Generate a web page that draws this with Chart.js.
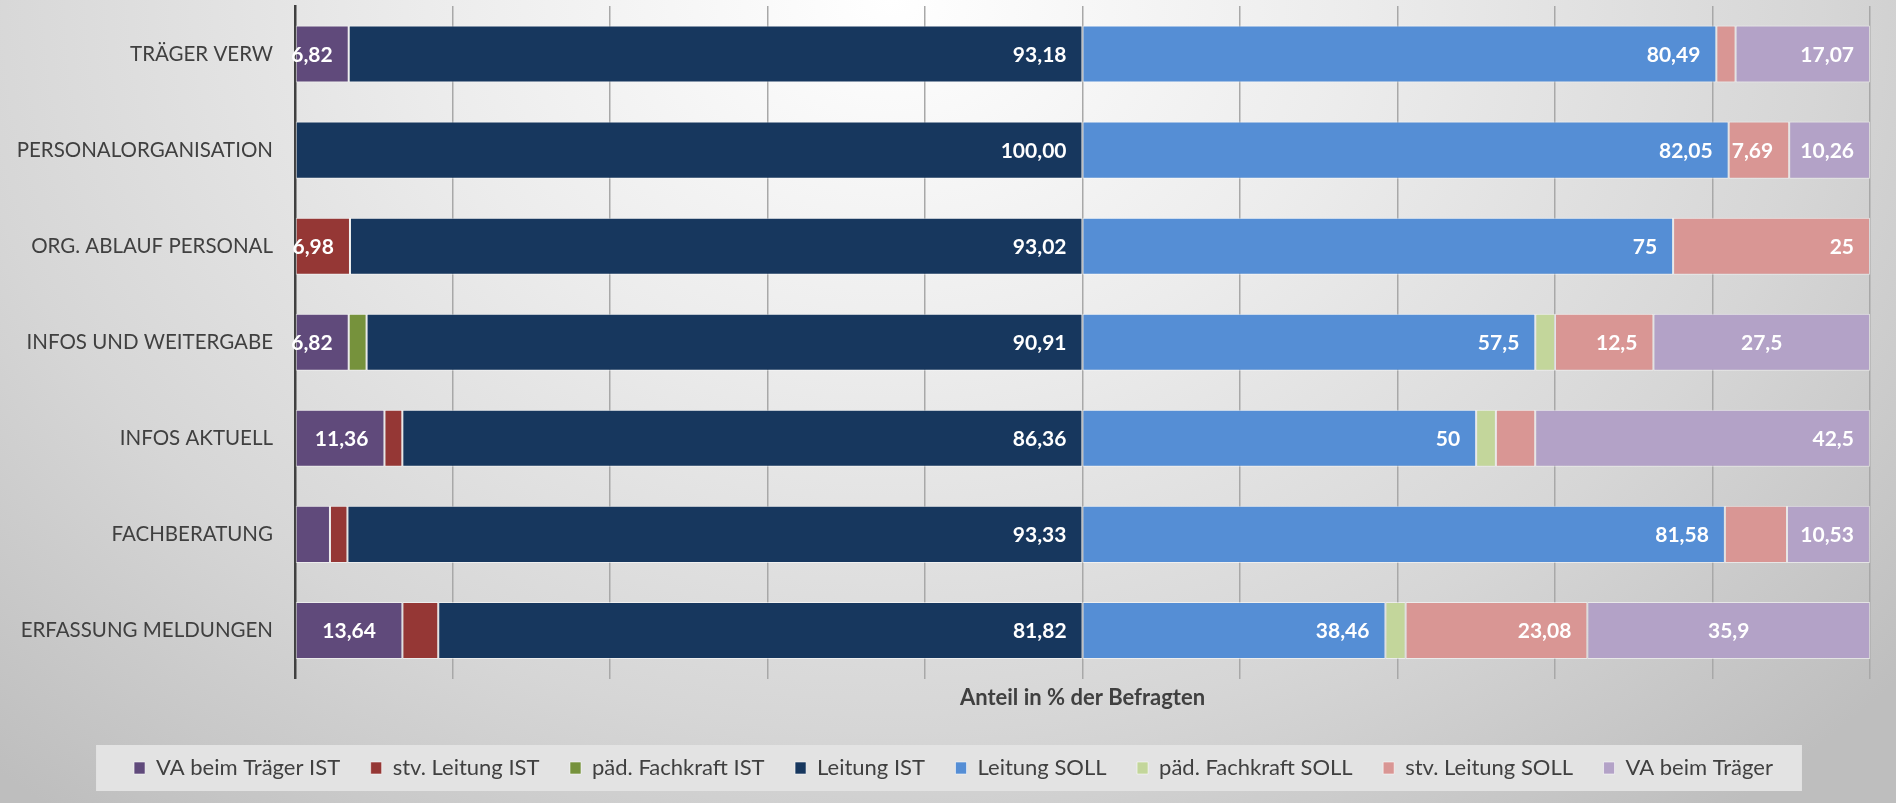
<!DOCTYPE html>
<html>
<head>
<meta charset="utf-8">
<script src="https://cdn.jsdelivr.net/npm/chart.js@4.4.1/dist/chart.umd.min.js"></script>
<style>
  html, body {
    margin: 0;
    padding: 0;
    width: 1896px;
    height: 803px;
    overflow: hidden;
    background: radial-gradient(ellipse 70% 130% at 47% 0%, #ffffff 0%, #ececec 35%, #d6d6d6 70%, #bebebe 100%);
  }
  canvas { display: block; }
</style>
</head>
<body>
<canvas id="chart_anteil" width="1896" height="803"></canvas>
<script>
const categories = ['TRÄGER VERW', 'PERSONALORGANISATION', 'ORG. ABLAUF PERSONAL', 'INFOS UND WEITERGABE', 'INFOS AKTUELL', 'FACHBERATUNG', 'ERFASSUNG MELDUNGEN'];

// IST (0-100) then SOLL stacked behind it (100-200)
const vaTraegerIst = [6.82, null, null, 6.82, 11.36, 4.44, 13.64];
const stvLeitungIst = [null, null, 6.98, null, 2.27, 2.22, 4.55];
const paedFachkraftIst = [null, null, null, 2.27, null, null, null];
const leitungIst = [93.18, 100, 93.02, 90.91, 86.36, 93.33, 81.82];
const leitungSoll = [80.49, 82.05, 75, 57.5, 50, 81.58, 38.46];
const paedFachkraftSoll = [null, null, null, 2.5, 2.5, null, 2.56];
const stvLeitungSoll = [2.44, 7.69, 25, 12.5, 5, 7.89, 23.08];
const vaTraegerSoll = [17.07, 10.26, null, 27.5, 42.5, 10.53, 35.9];

const xTitle = 'Anteil in % der Befragten';

// labels Excel left out / put in the middle
const unlabelled = [['stv. Leitung SOLL', 5]];
const centered = [['VA beim Träger IST', 6], ['VA beim Träger', 3], ['VA beim Träger', 6]];

Chart.defaults.font.family = 'Lato';
Chart.defaults.color = '#404040';

function fmt(label, v) {
    if (label.endsWith('IST')) return v.toFixed(2).replace('.', ',');
    return String(v).replace('.', ',');
}

const labelPlugin = {
    id: 'werteLabels',
    afterLayout(chart) {
        // legend sits a bit right of the canvas centre
        chart.legend.left += 16;
        chart.legend.right += 16;
    },
    beforeDraw(chart) {
        // grey box behind the legend
        const lg = chart.legend;
        if (!lg || !lg.legendHitBoxes.length) return;
        const hb = lg.legendHitBoxes;
        const first = hb[0], last = hb[hb.length - 1];
        const cy = first.top + first.height / 2;
        const ctx = chart.ctx;
        ctx.save();
        ctx.fillStyle = '#e3e3e3';
        ctx.fillRect(first.left - 38, cy - 23, last.left + last.width + 29 - (first.left - 38), 46);
        ctx.restore();
    },
    afterDatasetsDraw(chart) {
        const ctx = chart.ctx;
        ctx.save();
        ctx.font = 'bold 21px Lato';
        ctx.fillStyle = '#ffffff';
        ctx.textBaseline = 'middle';
        chart.data.datasets.forEach((ds, di) => {
            const meta = chart.getDatasetMeta(di);
            meta.data.forEach((bar, i) => {
                const v = ds.data[i];
                if (v == null || v < 6) return;
                if (unlabelled.some(u => u[0] === ds.label && u[1] === i)) return;
                const txt = fmt(ds.label, v);
                if (centered.some(c => c[0] === ds.label && c[1] === i)) {
                    ctx.textAlign = 'center';
                    ctx.fillText(txt, (bar.x + bar.base) / 2, bar.y + 1);
                } else {
                    ctx.textAlign = 'right';
                    ctx.fillText(txt, bar.x - 16, bar.y + 1);
                }
            });
        });
        ctx.restore();
    }
};

function serie(label, data, color) {
    return {
        label: label,
        data: data,
        backgroundColor: color,
        borderColor: 'rgba(255, 255, 255, 0.55)',
        borderWidth: 1,
        borderSkipped: false,
        barPercentage: 0.594,
        categoryPercentage: 1
    };
}

const ctx = document.getElementById('chart_anteil');

let chart = new Chart(ctx, {
    type: 'bar',
    data: {
        labels: categories,
        datasets: [
            serie('VA beim Träger IST', vaTraegerIst, '#604a7b'),
            serie('stv. Leitung IST', stvLeitungIst, '#953735'),
            serie('päd. Fachkraft IST', paedFachkraftIst, '#76923c'),
            serie('Leitung IST', leitungIst, '#17375e'),
            serie('Leitung SOLL', leitungSoll, '#558ed5'),
            serie('päd. Fachkraft SOLL', paedFachkraftSoll, '#c3d69b'),
            serie('stv. Leitung SOLL', stvLeitungSoll, '#d99694'),
            serie('VA beim Träger', vaTraegerSoll, '#b3a2c7')
        ]
    },
    options: {
        indexAxis: 'y',
        responsive: false,
        animation: false,
        layout: { padding: { left: 5, right: 26, top: 6, bottom: 14 } },
        scales: {
            x: {
                stacked: true,
                min: 0,
                max: 200,
                ticks: { display: false, stepSize: 20 },
                grid: { color: '#a8a8a8', lineWidth: 1.5, drawTicks: false },
                border: { display: false },
                title: {
                    display: true,
                    text: xTitle,
                    color: '#404040',
                    font: { size: 22, weight: 'bold' },
                    padding: { top: 6, bottom: 15.6 }
                }
            },
            y: {
                stacked: true,
                grid: { display: false, drawTicks: false },
                border: { display: true, color: '#404040', width: 2.5 },
                ticks: { color: '#404040', font: { size: 20.5 }, padding: 22 },
                afterFit: s => {
                    s.width = 290;
                    s.paddingTop = 0;
                    s.paddingBottom = 0;
                }
            }
        },
        plugins: {
            legend: {
                position: 'bottom',
                labels: {
                    boxWidth: 11,
                    boxHeight: 12,
                    padding: 30.5,
                    color: '#404040',
                    font: { size: 22 }
                }
            },
            tooltip: { enabled: false }
        }
    },
    plugins: [labelPlugin]
});
</script>
</body>
</html>
